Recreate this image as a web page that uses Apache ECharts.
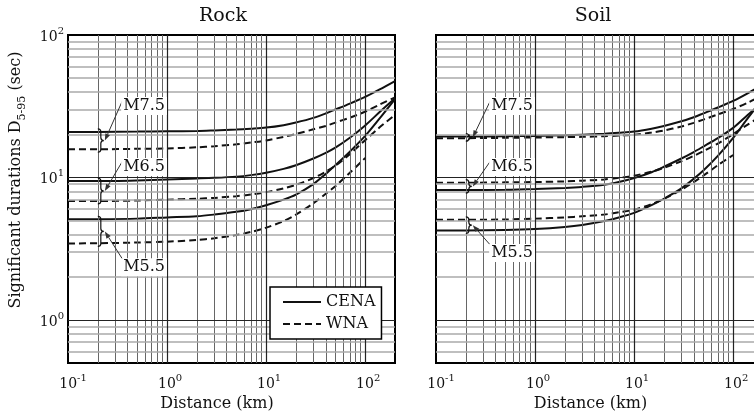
<!DOCTYPE html>
<html>
<head>
<meta charset="utf-8">
<script src="https://cdn.jsdelivr.net/npm/echarts@6/dist/echarts.min.js"></script>
<style>html,body{margin:0;padding:0;background:#fff}#c{width:754px;height:418px}</style>
</head>
<body>
<div id="c"></div>
<script>
// ---- data ----
const distances = [0.1, 0.2, 0.5, 1, 2, 3, 5, 7, 10, 15, 20, 30, 40, 50, 70, 100, 140, 200];

const rockCENA75 = [20.9, 20.9, 21.0, 21.1, 21.2, 21.4, 21.7, 22.0, 22.4, 23.3, 24.3, 26.2, 28.2, 30.0, 33.0, 36.8, 41.5, 47.5];
const rockWNA75  = [15.8, 15.8, 15.9, 16.0, 16.3, 16.6, 17.1, 17.6, 18.2, 19.3, 20.2, 21.8, 23.0, 24.3, 26.3, 29.0, 32.5, 36.5];
const rockCENA65 = [9.45, 9.45, 9.55, 9.7, 9.85, 9.95, 10.15, 10.4, 10.8, 11.5, 12.2, 13.6, 14.9, 16.2, 19.0, 23.2, 28.8, 36.0];
const rockWNA65  = [6.85, 6.85, 6.9, 7.0, 7.1, 7.2, 7.4, 7.6, 7.9, 8.4, 8.9, 9.9, 11.0, 12.1, 14.6, 18.3, 22.5, 27.5];
const rockCENA55 = [5.09, 5.1, 5.15, 5.25, 5.35, 5.5, 5.75, 6.0, 6.4, 7.0, 7.6, 9.0, 10.6, 12.2, 15.2, 19.6, 26.0, 35.5];
const rockWNA55  = [3.45, 3.46, 3.5, 3.55, 3.65, 3.75, 3.95, 4.15, 4.45, 4.95, 5.5, 6.6, 7.7, 8.7, 10.8, 13.7, null, null];

const soilCENA75 = [19.4, 19.4, 19.5, 19.6, 19.8, 20.0, 20.3, 20.6, 21.0, 22.0, 23.0, 24.8, 26.5, 28.2, 31.0, 34.5, 39.0, 45.0];
const soilWNA75  = [18.9, 18.9, 19.0, 19.1, 19.2, 19.3, 19.5, 19.7, 20.0, 20.7, 21.4, 22.8, 24.2, 25.5, 27.7, 30.3, 33.5, 38.0];
const soilCENA65 = [8.17, 8.17, 8.2, 8.3, 8.45, 8.6, 8.9, 9.3, 9.9, 10.9, 11.9, 13.6, 15.1, 16.5, 18.9, 22.3, 27.5, 34.0];
const soilWNA65  = [9.2, 9.2, 9.25, 9.3, 9.4, 9.5, 9.7, 9.95, 10.3, 11.0, 11.7, 13.0, 14.2, 15.3, 17.3, 20.2, 23.5, 27.5];
const soilCENA55 = [4.25, 4.25, 4.28, 4.35, 4.5, 4.65, 4.95, 5.25, 5.65, 6.4, 7.1, 8.4, 9.8, 11.2, 14.2, 19.0, 26.0, 36.0];
const soilWNA55  = [5.05, 5.05, 5.08, 5.15, 5.25, 5.35, 5.5, 5.7, 5.95, 6.5, 7.1, 8.2, 9.3, 10.3, 12.2, 14.4, null, null];

const panelTitles = ['Rock', 'Soil'];
const legendNames = ['CENA', 'WNA'];
const magnitudeLabels = ['M7.5', 'M6.5', 'M5.5'];

// grid line values (log axes)
const xMajorTicks = [1, 10, 100];
const xMinorTicks = [0.2,0.3,0.4,0.5,0.6,0.7,0.8,0.9, 2,3,4,5,6,7,8,9, 20,30,40,50,60,70,80,90];
const yMajorTicks = [1, 10];
const yMinorTicks = [0.6,0.7,0.8,0.9, 2,3,4,5,6,7,8,9, 20,30,40,50,60,70,80,90];

// ---- styling / layout ----
const FONT = '"DejaVu Serif", serif';
const INK = '#111';

function pairs(vals) {
  const out = [];
  distances.forEach((r, i) => { if (vals[i] != null) out.push([r, vals[i]]); });
  return out;
}
function isPow10(v) {
  const e = Math.log10(v);
  return Math.abs(e - Math.round(e)) < 1e-6 ? Math.round(e) : null;
}
function xFmt(v) {
  const n = isPow10(v);
  if (n === null) return '';
  const s = String(n);
  return (s.length > 1 ? '{p2|}' : '{p1|}') + '{b|10}{s|' + s + '}';
}
function yFmt(v) {
  const n = isPow10(v);
  if (n === null) return '';
  return '{b|10}{s|' + n + '}';
}
const labelRich = {
  b: { fontFamily: FONT, fontSize: 14, color: INK, lineHeight: 18, verticalAlign: 'bottom' },
  s: { fontFamily: FONT, fontSize: 10, color: INK, lineHeight: 11, verticalAlign: 'top' },
  p1: { width: 6 },
  p2: { width: 10 }
};

function gridLineSeries(idx) {
  const d = [];
  xMinorTicks.forEach(v => d.push({ xAxis: v, lineStyle: { color: '#666', width: 1, type: 'solid' } }));
  yMinorTicks.forEach(v => d.push({ yAxis: v, lineStyle: { color: '#aaa', width: 1.5, type: 'solid' } }));
  xMajorTicks.forEach(v => d.push({ xAxis: v, lineStyle: { color: '#222', width: 1.2, type: 'solid' } }));
  yMajorTicks.forEach(v => d.push({ yAxis: v, lineStyle: { color: '#222', width: 1.2, type: 'solid' } }));
  return {
    type: 'line', xAxisIndex: idx, yAxisIndex: idx, data: [], silent: true, z: 1,
    markLine: { silent: true, symbol: ['none', 'none'], label: { show: false }, animation: false,
      lineStyle: { type: 'solid' }, emphasis: { disabled: true }, data: d }
  };
}

function curve(name, idx, vals) {
  const dashed = name === 'WNA';
  return {
    type: 'line', name: name, xAxisIndex: idx, yAxisIndex: idx, data: pairs(vals),
    symbol: 'none', showSymbol: false, smooth: 0.3, z: 3,
    lineStyle: { color: INK, width: 2, type: dashed ? [7, 4] : 'solid' },
    itemStyle: { color: INK },
    emphasis: { disabled: true }
  };
}

// annotation placement: label top-left corner and brace span (in data units)
const rockAnnos = [
  { label: magnitudeLabels[0], textR: 0.344, textD: 36.7, braceR: 0.2, top: 20.9, bottom: 15.8 },
  { label: magnitudeLabels[1], textR: 0.344, textD: 13.7, braceR: 0.2, top: 9.45, bottom: 6.85 },
  { label: magnitudeLabels[2], textR: 0.344, textD: 2.72, braceR: 0.2, top: 5.09, bottom: 3.45 }
];
const soilAnnos = [
  { label: magnitudeLabels[0], textR: 0.344, textD: 36.7, braceR: 0.2, top: 19.4, bottom: 18.9 },
  { label: magnitudeLabels[1], textR: 0.344, textD: 13.7, braceR: 0.2, top: 9.2, bottom: 8.17 },
  { label: magnitudeLabels[2], textR: 0.344, textD: 3.42, braceR: 0.2, top: 5.05, bottom: 4.25 }
];

function annoSeries(idx, annos) {
  return {
    type: 'custom', xAxisIndex: idx, yAxisIndex: idx, z: 5, silent: true,
    data: annos.map(a => [a.textR, a.textD]),
    encode: { x: 0, y: 1 },
    renderItem: function (params, api) {
      const a = annos[params.dataIndex];
      const p = api.coord([a.textR, a.textD]);
      const bt = api.coord([a.braceR, a.top]);
      const bb = api.coord([a.braceR, a.bottom]);
      const x = bt[0];
      const yT = bt[1] - 3, yB = bb[1] + 3;
      const ym = (yT + yB) / 2;
      const w = 3;
      const path = 'M' + x + ' ' + yT +
        ' Q' + (x + w) + ' ' + yT + ' ' + (x + w) + ' ' + (yT + 3) +
        ' L' + (x + w) + ' ' + (ym - 3) +
        ' Q' + (x + w) + ' ' + ym + ' ' + (x + 2 * w) + ' ' + ym +
        ' Q' + (x + w) + ' ' + ym + ' ' + (x + w) + ' ' + (ym + 3) +
        ' L' + (x + w) + ' ' + (yB - 3) +
        ' Q' + (x + w) + ' ' + yB + ' ' + x + ' ' + yB;
      const tip = [x + 2 * w + 1, ym];
      const sx = p[0] + 2, sy = p[1] + 2;
      const dx = tip[0] - sx, dy = tip[1] - sy;
      const L = Math.sqrt(dx * dx + dy * dy);
      const ux = dx / L, uy = dy / L;
      const hl = 7, hw = 2.5;
      const bx = tip[0] - ux * hl, by = tip[1] - uy * hl;
      const head = [[tip[0], tip[1]], [bx - uy * hw, by + ux * hw], [bx + uy * hw, by - ux * hw]];
      return {
        type: 'group',
        children: [
          { type: 'path', shape: { pathData: path }, style: { stroke: INK, lineWidth: 1.2, fill: null } },
          { type: 'line', shape: { x1: sx, y1: sy, x2: bx, y2: by }, style: { stroke: '#333', lineWidth: 1 } },
          { type: 'polygon', shape: { points: head }, style: { fill: '#333' } },
          { type: 'text', x: p[0], y: p[1], style: { text: a.label, font: '16px ' + FONT, fill: INK,
              backgroundColor: '#fff', padding: [1, 2, 1, 2], align: 'left', verticalAlign: 'top' } }
        ]
      };
    }
  };
}

function xAxisCfg(idx, namePad) {
  return {
    type: 'log', logBase: 10, gridIndex: idx, min: 0.1, max: 200,
    axisLine: { show: false }, axisTick: { show: false }, splitLine: { show: false },
    axisLabel: { formatter: xFmt, margin: 10, rich: labelRich, showMinLabel: true, showMaxLabel: true },
    name: 'Distance (km)', nameLocation: 'middle', nameGap: 32,
    nameTextStyle: { fontFamily: FONT, fontSize: 16, color: INK, padding: [0, namePad, 0, 0] }
  };
}
function yAxisCfg(idx, showLabels) {
  const cfg = {
    type: 'log', logBase: 10, gridIndex: idx, min: 0.5, max: 100,
    axisLine: { show: false }, axisTick: { show: false }, splitLine: { show: false },
    axisLabel: { show: showLabels, formatter: yFmt, margin: 4, rich: labelRich }
  };
  if (showLabels) {
    cfg.name = 'Significant durations D{sub|5-95} (sec)';
    cfg.nameLocation = 'middle';
    cfg.nameGap = 44;
    cfg.nameRotate = 90;
    cfg.nameTextStyle = { fontFamily: FONT, fontSize: 16, color: INK, padding: [0, 0, 0, 38],
      rich: { sub: { fontFamily: FONT, fontSize: 11, color: INK, verticalAlign: 'bottom', lineHeight: 14, padding: [0, 0, -4, 0] } } };
  }
  return cfg;
}

const chart = echarts.init(document.getElementById('c'), null, { renderer: 'canvas' });
chart.setOption({
  animation: false,
  backgroundColor: '#fff',
  textStyle: { fontFamily: FONT },
  title: [
    { text: panelTitles[0], left: 218, top: 2, textAlign: 'center', textStyle: { fontFamily: FONT, fontSize: 19, fontWeight: 'normal', color: INK } },
    { text: panelTitles[1], left: 588, top: 2, textAlign: 'center', textStyle: { fontFamily: FONT, fontSize: 19, fontWeight: 'normal', color: INK } }
  ],
  legend: {
    data: legendNames, orient: 'vertical', left: 270, top: 287,
    itemWidth: 38, itemHeight: 12, itemGap: 6, padding: [7, 6, 7, 12],
    backgroundColor: '#fff', borderColor: '#000', borderWidth: 1.5, borderRadius: 0,
    itemStyle: { opacity: 0 },
    textStyle: { fontFamily: FONT, fontSize: 16, color: INK }, selectedMode: false, z: 10
  },
  grid: [
    { left: 68, top: 35, width: 327, height: 328, show: true, borderColor: '#000', borderWidth: 2, backgroundColor: 'rgba(0,0,0,0)', outerBoundsMode: 'none', containLabel: false },
    { left: 436, top: 35, width: 327, height: 328, show: true, borderColor: '#000', borderWidth: 2, backgroundColor: 'rgba(0,0,0,0)', outerBoundsMode: 'none', containLabel: false }
  ],
  xAxis: [xAxisCfg(0, 29), xAxisCfg(1, 18)],
  yAxis: [yAxisCfg(0, true), yAxisCfg(1, false)],
  series: [
    gridLineSeries(0), gridLineSeries(1),
    curve('CENA', 0, rockCENA75), curve('WNA', 0, rockWNA75),
    curve('CENA', 0, rockCENA65), curve('WNA', 0, rockWNA65),
    curve('CENA', 0, rockCENA55), curve('WNA', 0, rockWNA55),
    curve('CENA', 1, soilCENA75), curve('WNA', 1, soilWNA75),
    curve('CENA', 1, soilCENA65), curve('WNA', 1, soilWNA65),
    curve('CENA', 1, soilCENA55), curve('WNA', 1, soilWNA55),
    annoSeries(0, rockAnnos), annoSeries(1, soilAnnos)
  ]
});
</script>
</body>
</html>
